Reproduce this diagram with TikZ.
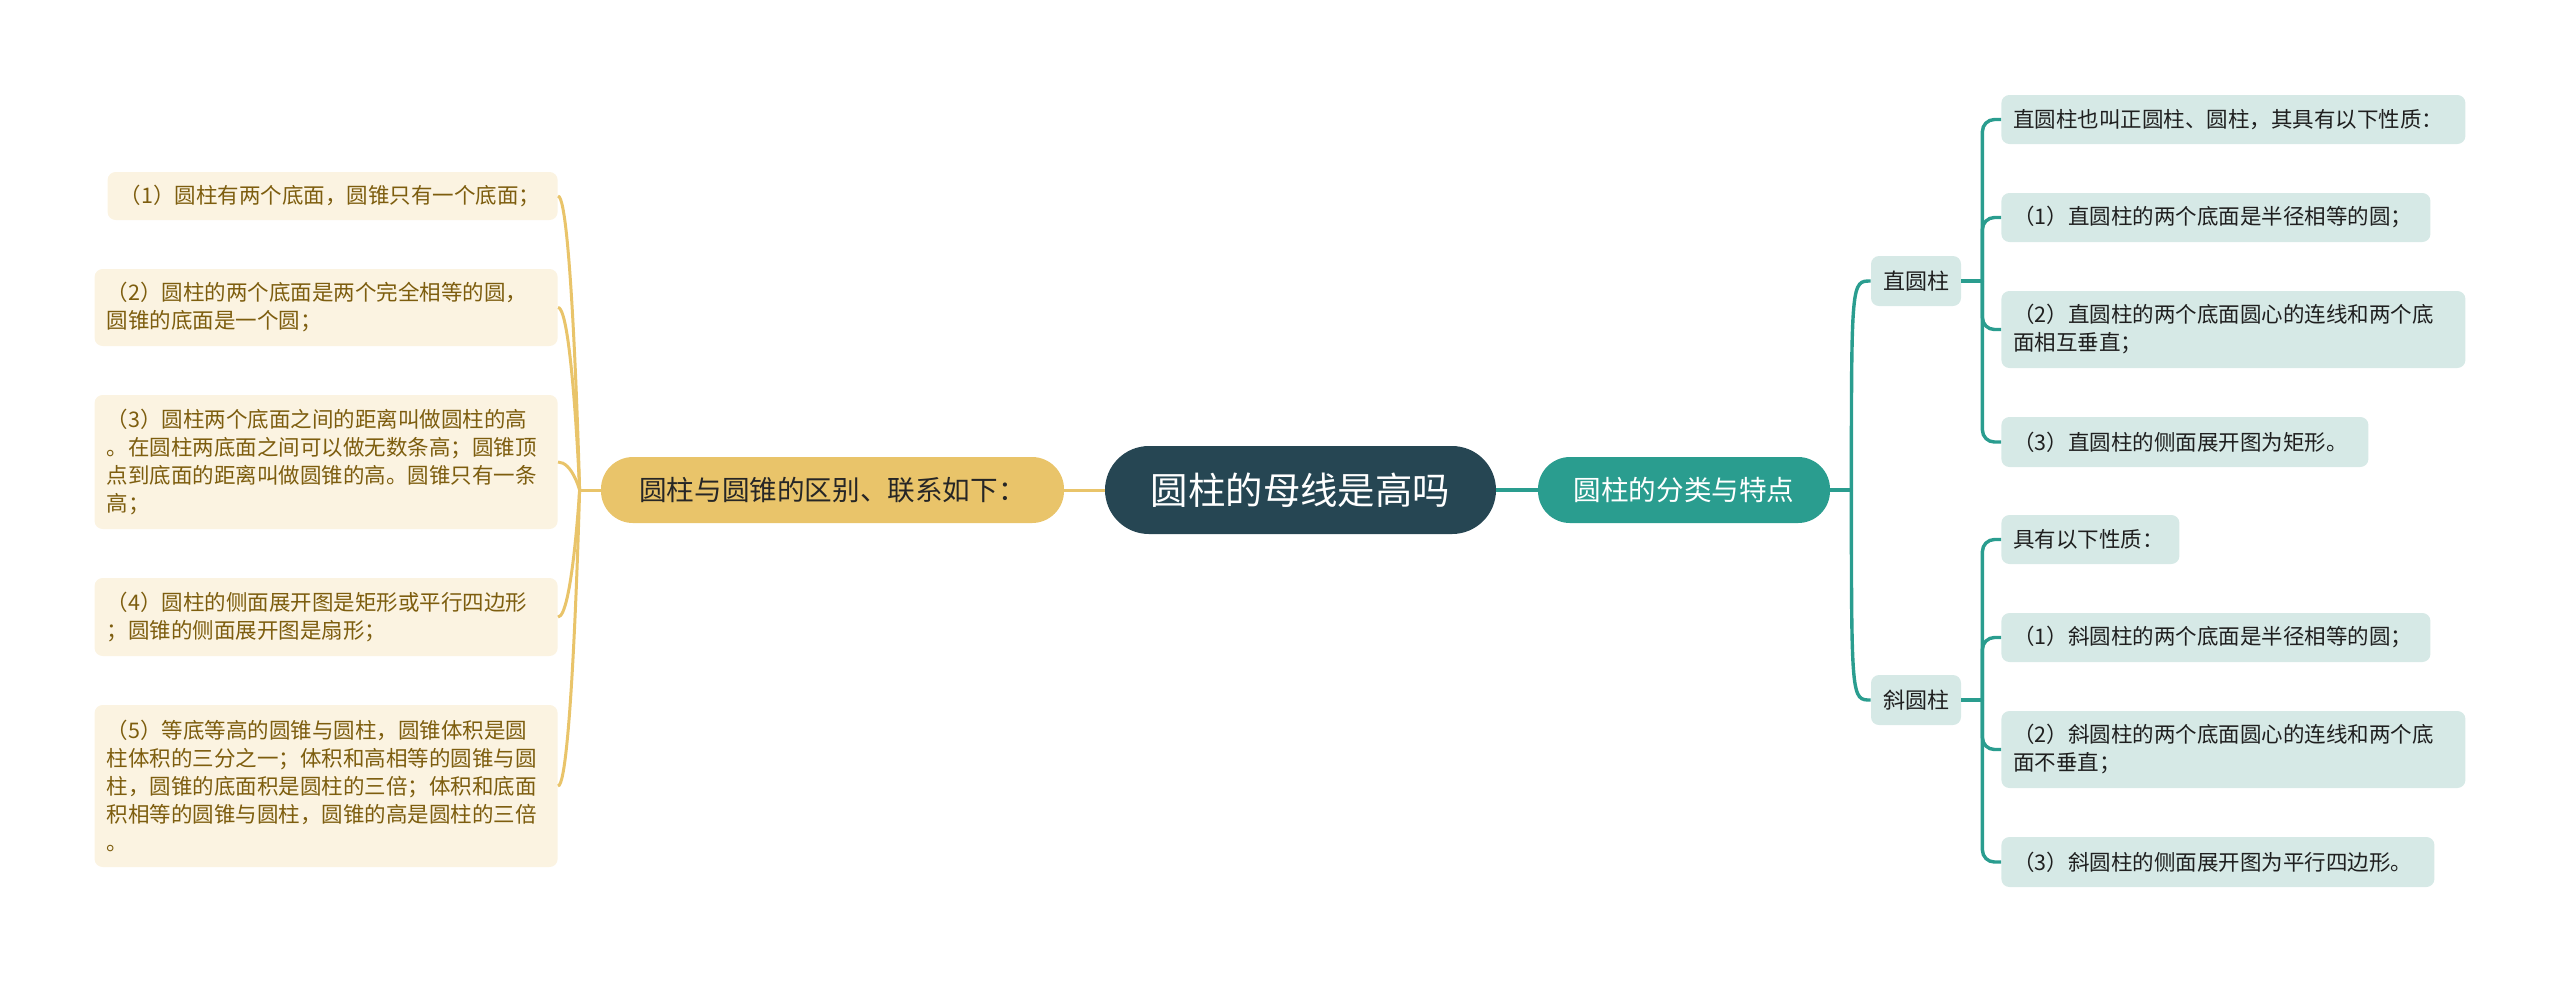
\documentclass[tikz,border=0pt]{standalone}
\usepackage{fontspec}
\setmainfont{Noto Sans CJK SC}
\usepackage{tikz}
\usepackage{xcolor}
\usetikzlibrary{calc}

\definecolor{rootblue}{HTML}{264653}
\definecolor{mustard}{HTML}{E9C46A}
\definecolor{seagreen}{HTML}{2A9D8F}
\definecolor{creambg}{HTML}{FBF3E1}
\definecolor{mintbg}{HTML}{D6E9E6}
\definecolor{oliveink}{HTML}{7D5D0E}

\newcommand\leaffont{\fontsize{10.75pt}{14pt}\selectfont}

\begin{document}
\begin{tikzpicture}[
        x=0.5pt, y=-0.5pt,
        every node/.style={rounded corners=4pt, inner xsep=6pt, inner ysep=0pt, align=left},
        rootbox/.style={fill=rootblue, text=white, rounded corners=22pt, minimum width=195.5pt, minimum height=44pt, align=center, font=\fontsize{18.7pt}{22pt}\selectfont},
        mainbox/.style={rounded corners=16pt, minimum height=33pt, align=center, font=\fontsize{13.8pt}{17pt}\selectfont},
        kindbox/.style={fill=mintbg, text=black!88, minimum width=44pt, minimum height=25pt, align=center, font=\fontsize{11pt}{14pt}\selectfont},
        leafl/.style={fill=creambg, text=oliveink, anchor=east, text width=219.5pt, font=\leaffont},
        leafr/.style={fill=mintbg, text=black!88, anchor=west, text width=220pt, minimum height=24.5pt, font=\leaffont},
        yline/.style={draw=mustard, line width=1.5pt},
        tline/.style={draw=seagreen, line width=1.7pt}
        ]
        \useasboundingbox (0,0) rectangle (2560,982);

        % Nodes
        \node[rootbox] (root) at (1300.5,490) {圆柱的母线是高吗};
        \node[mainbox, fill=mustard, text=black!85, minimum width=231.5pt] (diff) at (832.5,490) {圆柱与圆锥的区别、联系如下：};
        \node[mainbox, fill=seagreen, text=white, minimum width=146pt] (kinds) at (1684,490) {圆柱的分类与特点};

        \node[leafl, text width=213pt, minimum height=24pt] (d1) at (558,196) {（1）圆柱有两个底面，圆锥只有一个底面；};
        \node[leafl, minimum height=38.5pt] (d2) at (558,307.5) {（2）圆柱的两个底面是两个完全相等的圆，\\圆锥的底面是一个圆；};
        \node[leafl, minimum height=67pt] (d3) at (558,462) {（3）圆柱两个底面之间的距离叫做圆柱的高\\。在圆柱两底面之间可以做无数条高；圆锥顶\\点到底面的距离叫做圆锥的高。圆锥只有一条\\高；};
        \node[leafl, minimum height=39pt] (d4) at (558,617) {（4）圆柱的侧面展开图是矩形或平行四边形\\；圆锥的侧面展开图是扇形；};
        \node[leafl, minimum height=81pt] (d5) at (558,786) {（5）等底等高的圆锥与圆柱，圆锥体积是圆\\柱体积的三分之一；体积和高相等的圆锥与圆\\柱，圆锥的底面积是圆柱的三倍；体积和底面\\积相等的圆锥与圆柱，圆锥的高是圆柱的三倍\\。};

        \node[kindbox] (zhi) at (1916,281) {直圆柱};
        \node[kindbox] (xie) at (1916,700) {斜圆柱};

        \node[leafr] (z1) at (2001,119.5) {直圆柱也叫正圆柱、圆柱，其具有以下性质：};
        \node[leafr, text width=202.5pt] (z2) at (2001,217.5) {（1）直圆柱的两个底面是半径相等的圆；};
        \node[leafr, minimum height=38.5pt] (z3) at (2001,329.5) {（2）直圆柱的两个底面圆心的连线和两个底\\面相互垂直；};
        \node[leafr, text width=171.5pt, minimum height=25pt] (z4) at (2001,442) {（3）直圆柱的侧面展开图为矩形。};

        \node[leafr, text width=77pt] (x1) at (2001,539.5) {具有以下性质：};
        \node[leafr, text width=202.5pt] (x2) at (2001,637.5) {（1）斜圆柱的两个底面是半径相等的圆；};
        \node[leafr, minimum height=38.5pt] (x3) at (2001,749.5) {（2）斜圆柱的两个底面圆心的连线和两个底\\面不垂直；};
        \node[leafr, text width=204.5pt, minimum height=25pt] (x4) at (2001,862) {（3）斜圆柱的侧面展开图为平行四边形。};

        % Connectors
        \draw[yline] (root.west) -- (diff.east);
        \draw[yline] (diff.west) -- ++(-21,0) coordinate (lj);
        \foreach \b in {d1,d2,d3,d4,d5}
            \draw[yline] (\b.east) .. controls +(14,0) and (lj) .. (lj);

        \draw[tline] (root.east) -- (kinds.west);
        \draw[tline] (kinds.east) -- ++(21,0) coordinate (rj);
        \foreach \b in {zhi,xie}
            \draw[tline] (rj) .. controls (rj |- \b.west) and (rj |- \b.west) .. (\b.west);

        \draw[tline] (zhi.east) -- ++(21,0) coordinate (zj);
        \foreach \b in {z1,z2,z3,z4}
            \draw[tline, rounded corners=6pt] (zj) |- (\b.west);
        \draw[tline] (xie.east) -- ++(21,0) coordinate (xj);
        \foreach \b in {x1,x2,x3,x4}
            \draw[tline, rounded corners=6pt] (xj) |- (\b.west);

\end{tikzpicture}
\end{document}
